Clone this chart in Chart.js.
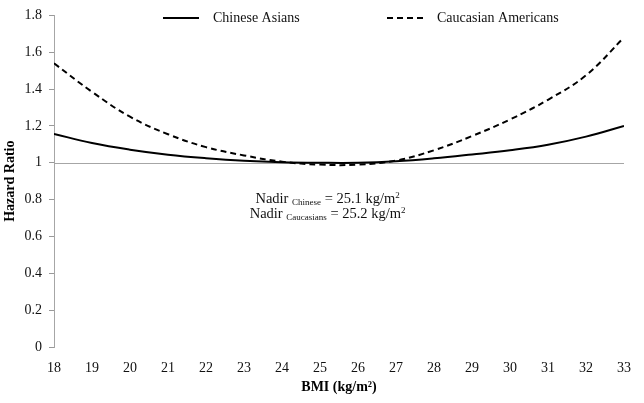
<!DOCTYPE html>
<html>
<head>
<meta charset="utf-8">
<script src="https://cdn.jsdelivr.net/npm/chart.js@4/dist/chart.umd.min.js"></script>
<style>
  html, body { margin: 0; padding: 0; background: #fff; }
  #wrap { width: 644px; height: 403px; }
</style>
</head>
<body>
<div id="wrap"><canvas id="hrchart"></canvas></div>
<script>
const bmi = [18, 19, 20, 21, 22, 23, 24, 25, 26, 27, 28, 29, 30, 31, 32, 33];
const chineseHR = [1.157, 1.107, 1.071, 1.044, 1.025, 1.011, 1.003, 1.0, 1.0, 1.008, 1.024, 1.045, 1.068, 1.098, 1.142, 1.2];
const caucasianHR = [1.54, 1.385, 1.25, 1.155, 1.085, 1.04, 1.006, 0.99, 0.99, 1.012, 1.068, 1.145, 1.235, 1.342, 1.475, 1.68];
const seriesNames = ['Chinese Asians', 'Caucasian Americans'];
const nadirLines = [
  { group: 'Chinese', value: '25.1' },
  { group: 'Caucasians', value: '25.2' }
];

const serif = '"Liberation Serif", "Times New Roman", serif';
const axisGray = '#a6a6a6';

function toPoints(xs, ys) {
  return xs.map((x, i) => ({ x: x, y: ys[i] }));
}

/* gray reference line at HR = 1, under the curves */
const refLine = {
  id: 'refLine',
  beforeDatasetsDraw(chart) {
    const { ctx, chartArea, scales } = chart;
    const y = Math.round(scales.y.getPixelForValue(1)) + 0.5;
    ctx.save();
    ctx.strokeStyle = axisGray;
    ctx.lineWidth = 1;
    ctx.beginPath();
    ctx.moveTo(chartArea.left, y);
    ctx.lineTo(chartArea.right, y);
    ctx.stroke();
    ctx.restore();
  }
};

/* legend inside the plot + nadir note */
const extras = {
  id: 'extras',
  afterDraw(chart) {
    const { ctx, scales } = chart;
    ctx.save();
    ctx.fillStyle = '#111';
    ctx.strokeStyle = '#000';
    ctx.lineWidth = 2;
    ctx.textBaseline = 'middle';
    ctx.font = '14px ' + serif;

    const ly = 18;
    ctx.beginPath();
    ctx.moveTo(163, ly);
    ctx.lineTo(199, ly);
    ctx.stroke();
    ctx.fillText(seriesNames[0], 213, ly);

    ctx.setLineDash([6, 4]);
    ctx.beginPath();
    ctx.moveTo(387, ly);
    ctx.lineTo(423, ly);
    ctx.stroke();
    ctx.setLineDash([]);
    ctx.fillText(seriesNames[1], 437, ly);

    /* Nadir text with sub/superscripts */
    ctx.textBaseline = 'alphabetic';
    const cx = scales.x.getPixelForValue(25.2);
    nadirLines.forEach((ln, i) => {
      const base = 203 + i * 15;
      const parts = [
        { t: 'Nadir ', f: '14.5px ', dy: 0 },
        { t: ln.group, f: '9px ', dy: 2 },
        { t: ' = ' + ln.value + ' kg/m', f: '14.5px ', dy: 0 },
        { t: '2', f: '9px ', dy: -5 }
      ];
      let w = 0;
      parts.forEach(p => { ctx.font = p.f + serif; w += ctx.measureText(p.t).width; });
      let x = cx - w / 2;
      parts.forEach(p => {
        ctx.font = p.f + serif;
        ctx.fillText(p.t, x, base + p.dy);
        x += ctx.measureText(p.t).width;
      });
    });
    ctx.restore();
  }
};

const config = {
  type: 'line',
  data: {
    datasets: [
      {
        label: seriesNames[0],
        data: toPoints(bmi, chineseHR),
        borderColor: '#000',
        borderWidth: 2,
        pointRadius: 0,
        tension: 0.4,
        fill: false
      },
      {
        label: seriesNames[1],
        data: toPoints(bmi, caucasianHR),
        borderColor: '#000',
        borderWidth: 2,
        borderDash: [6, 4],
        pointRadius: 0,
        tension: 0.4,
        fill: false
      }
    ]
  },
  options: {
    responsive: true,
    maintainAspectRatio: false,
    animation: false,
    layout: { padding: { top: 9, right: 9, left: 0, bottom: 0 } },
    plugins: {
      legend: { display: false },
      tooltip: { enabled: false }
    },
    scales: {
      x: {
        type: 'linear',
        min: 18,
        max: 33,
        ticks: {
          stepSize: 1,
          padding: 13,
          color: '#111',
          font: { family: serif, size: 14 }
        },
        grid: { display: false, drawTicks: false },
        border: { display: false },
        title: {
          display: true,
          text: 'BMI (kg/m²)',
          color: '#000',
          font: { family: serif, size: 14, weight: 'bold' },
          padding: { top: 4, bottom: 7 }
        },
        afterFit: scale => { scale.height = 56; }
      },
      y: {
        min: 0,
        max: 1.8,
        ticks: {
          stepSize: 0.2,
          padding: 7,
          color: '#111',
          font: { family: serif, size: 14 },
          callback: v => String(Math.round(v * 10) / 10)
        },
        grid: {
          drawOnChartArea: false,
          drawTicks: true,
          tickLength: 5,
          color: '#999'
        },
        border: { display: true, color: axisGray },
        title: {
          display: true,
          text: 'Hazard Ratio',
          color: '#000',
          font: { family: serif, size: 14, weight: 'bold' },
          padding: { top: 2, bottom: 2 }
        },
        afterFit: scale => { scale.width = 54; }
      }
    }
  },
  plugins: [refLine, extras]
};

new Chart(document.getElementById('hrchart').getContext('2d'), config);
</script>
</body>
</html>
